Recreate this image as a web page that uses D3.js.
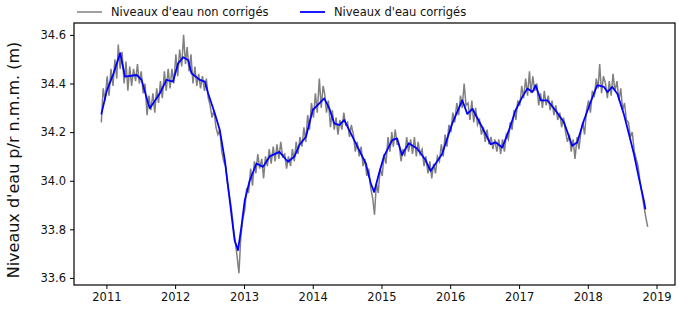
<!DOCTYPE html>
<html>
<head>
<meta charset="utf-8">
<script src="https://cdn.jsdelivr.net/npm/d3@7"></script>
<style>
  body { margin: 0; background: #fff; }
  svg { display: block; font-family: "DejaVu Sans", sans-serif; }
</style>
</head>
<body>
<svg id="chart" width="678" height="309"></svg>
<script>
// legend / series names
var seriesNames = ["Niveaux d'eau non corrigés", "Niveaux d'eau corrigés"];
var yLabel = "Niveaux d'eau p/r n.m.m. (m)";

// raw (uncorrected) levels: 3 readings per month (days 5, 15, 25) from Dec 2010
var rawFirstMonth = "2010-12";
var rawDays = [5, 15, 25];
var rawLevels = [
  34.24, 34.38, 34.33,
  34.43, 34.35, 34.46,  34.39, 34.50, 34.42,  34.56, 34.46, 34.53,
  34.40, 34.49, 34.37,  34.47, 34.39, 34.46,  34.41, 34.48, 34.40,
  34.45, 34.36, 34.40,  34.27, 34.35, 34.29,  34.36, 34.28, 34.38,
  34.32, 34.41, 34.34,  34.45, 34.37, 34.46,  34.38, 34.46, 34.40,
  34.52, 34.43, 34.54,  34.47, 34.60, 34.48,  34.55, 34.45, 34.52,
  34.40, 34.47, 34.39,  34.44, 34.38, 34.43,  34.37, 34.42, 34.34,
  34.31, 34.26, 34.29,  34.22, 34.19, 34.21,  34.12, 34.08, 34.06,
  33.99, 33.94, 33.89,  33.81, 33.75, 33.69,  33.62, 33.77, 33.84,
  33.88, 33.97, 33.95,  34.05, 33.98, 34.08,  34.03, 34.11, 34.05,
  34.09, 34.01, 34.10,  34.06, 34.13, 34.07,  34.14, 34.08, 34.15,
  34.09, 34.16, 34.10,  34.11, 34.05, 34.10,  34.06, 34.13, 34.08,
  34.16, 34.11, 34.18,  34.14, 34.22, 34.16,  34.27, 34.21, 34.32,
  34.26, 34.36, 34.28,  34.42, 34.30, 34.39,  34.36, 34.28, 34.33,
  34.22, 34.29, 34.21,  34.26, 34.19, 34.25,  34.21, 34.28, 34.23,
  34.24, 34.18, 34.23,  34.19, 34.12, 34.16,  34.10, 34.14, 34.06,
  34.09, 34.02, 34.05,  33.97, 33.93, 33.86,  33.99, 33.95, 34.05,
  34.02, 34.11, 34.07,  34.18, 34.12, 34.20,  34.14, 34.21, 34.15,
  34.15, 34.08, 34.13,  34.10, 34.18, 34.12,  34.17, 34.11, 34.18,
  34.10, 34.16, 34.11,  34.13, 34.06, 34.10,  34.03, 34.08, 34.01,
  34.07, 34.03, 34.10,  34.08, 34.15, 34.10,  34.19, 34.14, 34.23,
  34.20, 34.28, 34.24,  34.32, 34.27, 34.35,  34.30, 34.40, 34.31,
  34.32, 34.25, 34.33,  34.24, 34.30, 34.23,  34.25, 34.19, 34.22,
  34.16, 34.21, 34.15,  34.18, 34.13, 34.17,  34.12, 34.17, 34.11,
  34.17, 34.12, 34.19,  34.17, 34.24, 34.21,  34.29, 34.25, 34.33,
  34.31, 34.39, 34.34,  34.42, 34.35, 34.45,  34.36, 34.43, 34.37,
  34.40, 34.31, 34.36,  34.30, 34.37, 34.31,  34.35, 34.29, 34.33,
  34.27, 34.31, 34.25,  34.28, 34.22, 34.26,  34.20, 34.16, 34.19,
  34.12, 34.17, 34.09,  34.18, 34.13, 34.20,  34.24, 34.19, 34.29,
  34.33, 34.28, 34.37,  34.35, 34.42, 34.38,  34.48, 34.36, 34.43,
  34.40, 34.34, 34.41,  34.35, 34.44, 34.37,  34.41, 34.33, 34.38,
  34.29, 34.32, 34.25,  34.24, 34.18, 34.20,  34.12, 34.09, 34.06,
  34.00, 33.95, 33.90,
  33.85, 33.81
];

// corrected levels (smoothed curve)
var corrDates = [
  "2010-12-05", "2011-01-04", "2011-02-08", "2011-03-15", "2011-04-10", "2011-06-11",
  "2011-07-07", "2011-08-11", "2011-08-20", "2011-10-12", "2011-11-16", "2011-12-21",
  "2012-01-17", "2012-02-13", "2012-03-10", "2012-03-28", "2012-05-11", "2012-06-07",
  "2012-06-24", "2012-07-30", "2012-08-25", "2012-09-21", "2012-10-17", "2012-11-12",
  "2012-11-30", "2012-12-18", "2013-01-05", "2013-01-31", "2013-03-08", "2013-04-12",
  "2013-05-17", "2013-07-08", "2013-08-22", "2013-09-26", "2013-10-22", "2013-11-26",
  "2014-01-01", "2014-02-05", "2014-03-03", "2014-03-30", "2014-04-25", "2014-05-22",
  "2014-06-17", "2014-07-13", "2014-08-26", "2014-10-10", "2014-11-05", "2014-11-23",
  "2014-12-19", "2015-01-14", "2015-02-27", "2015-03-25", "2015-04-20", "2015-05-26",
  "2015-07-09", "2015-08-23", "2015-09-19", "2015-11-19", "2016-01-11", "2016-03-05",
  "2016-04-01", "2016-04-28", "2016-06-19", "2016-08-03", "2016-08-29", "2016-10-04",
  "2016-11-08", "2016-12-13", "2017-01-18", "2017-02-14", "2017-03-13", "2017-03-30",
  "2017-04-26", "2017-05-31", "2017-07-14", "2017-08-27", "2017-10-10", "2017-11-06",
  "2017-12-11", "2018-01-16", "2018-02-20", "2018-03-28", "2018-04-15", "2018-05-11",
  "2018-06-07", "2018-07-11", "2018-08-07", "2018-09-03", "2018-09-29", "2018-10-26",
  "2018-11-03"
];
var corrLevels = [
  34.273, 34.373, 34.442, 34.525, 34.428, 34.435,
  34.415, 34.318, 34.298, 34.360, 34.415, 34.408,
  34.483, 34.508, 34.497, 34.442, 34.415, 34.408,
  34.360, 34.277, 34.209, 34.085, 33.920, 33.755,
  33.714, 33.810, 33.920, 34.000, 34.071, 34.057,
  34.100, 34.119, 34.078, 34.100, 34.147, 34.181,
  34.291, 34.318, 34.339, 34.298, 34.236, 34.229,
  34.250, 34.209, 34.140, 34.071, 33.989, 33.954,
  34.030, 34.100, 34.167, 34.174, 34.106, 34.154,
  34.133, 34.085, 34.040, 34.110, 34.234, 34.331,
  34.275, 34.296, 34.220, 34.151, 34.158, 34.137,
  34.207, 34.289, 34.345, 34.379, 34.365, 34.393,
  34.331, 34.331, 34.289, 34.241, 34.144, 34.158,
  34.248, 34.324, 34.393, 34.386, 34.365, 34.386,
  34.358, 34.275, 34.193, 34.110, 34.013, 33.917,
  33.882
];

var yTicks = [33.6, 33.8, 34.0, 34.2, 34.4, 34.6];
var xTickYears = [2011, 2012, 2013, 2014, 2015, 2016, 2017, 2018, 2019];

// build the two series
var parseDay = d3.timeParse("%Y-%m-%d");
var firstMonth = d3.timeParse("%Y-%m")(rawFirstMonth);
var rawData = rawLevels.map(function(v, i) {
  var m = d3.timeMonth.offset(firstMonth, Math.floor(i / 3));
  return { date: new Date(m.getFullYear(), m.getMonth(), rawDays[i % 3]), value: v };
});
var corrData = corrDates.map(function(d, i) {
  return { date: parseDay(d), value: corrLevels[i] };
});

// set the dimensions and margins of the graph
var width = 678, height = 309;
var margin = { top: 23, right: 3, bottom: 24, left: 74 };

// matplotlib-like 5% padding around the data
var xExt = d3.extent(rawData.concat(corrData), function(d) { return +d.date; });
var xPad = (xExt[1] - xExt[0]) * 0.05;
var yExt = d3.extent(rawData.concat(corrData), function(d) { return d.value; });
var yPad = (yExt[1] - yExt[0]) * 0.05;

var x = d3.scaleTime()
  .domain([new Date(xExt[0] - xPad), new Date(xExt[1] + xPad)])
  .range([margin.left, width - margin.right]);
var y = d3.scaleLinear()
  .domain([yExt[0] - yPad, yExt[1] + yPad])
  .range([height - margin.bottom, margin.top]);

var svg = d3.select("#chart");

var line = d3.line()
  .x(function(d) { return x(d.date); })
  .y(function(d) { return y(d.value); });

svg.append("path")
  .datum(rawData)
  .attr("fill", "none")
  .attr("stroke", "#808080")
  .attr("stroke-width", 1.5)
  .attr("d", line);

svg.append("path")
  .datum(corrData)
  .attr("fill", "none")
  .attr("stroke", "#0000ff")
  .attr("stroke-width", 1.8)
  .attr("stroke-linejoin", "round")
  .attr("d", line);

// axes
var xAxis = svg.append("g")
  .attr("transform", "translate(0," + (height - margin.bottom) + ")")
  .call(d3.axisBottom(x)
    .tickValues(xTickYears.map(function(yr) { return new Date(yr, 0, 1); }))
    .tickFormat(d3.timeFormat("%Y"))
    .tickSize(4).tickPadding(4));

var yAxis = svg.append("g")
  .attr("transform", "translate(" + margin.left + ",0)")
  .call(d3.axisLeft(y)
    .tickValues(yTicks)
    .tickFormat(d3.format(".1f"))
    .tickSize(4).tickPadding(4));

[xAxis, yAxis].forEach(function(a) {
  a.select(".domain").remove();
  a.selectAll("line").attr("stroke", "#000").attr("stroke-width", 1);
  a.selectAll("text")
    .style("font-family", "'DejaVu Sans', sans-serif")
    .style("font-size", "11.5px")
    .attr("fill", "#111");
});

// frame
svg.append("rect")
  .attr("x", margin.left)
  .attr("y", margin.top)
  .attr("width", width - margin.left - margin.right)
  .attr("height", height - margin.top - margin.bottom)
  .attr("fill", "none")
  .attr("stroke", "#000")
  .attr("stroke-width", 1.2);

// y label
svg.append("text")
  .attr("transform", "translate(19," + ((margin.top + height - margin.bottom) / 2 + 6) + ") rotate(-90)")
  .attr("text-anchor", "middle")
  .style("font-size", "16px")
  .attr("fill", "#111")
  .text(yLabel);

// legend above the plot
var legendX = [77, 300];
var legendColors = ["#808080", "#0000ff"];
var legend = svg.append("g").attr("class", "legend");
seriesNames.forEach(function(name, i) {
  legend.append("line")
    .attr("x1", legendX[i]).attr("x2", legendX[i] + 25)
    .attr("y1", 12).attr("y2", 12)
    .attr("stroke", legendColors[i])
    .attr("stroke-width", i == 0 ? 1.5 : 1.8);
  legend.append("text")
    .attr("x", legendX[i] + 34)
    .attr("y", 16)
    .style("font-size", "11.5px")
    .attr("fill", "#111")
    .text(name);
});
</script>
</body>
</html>
